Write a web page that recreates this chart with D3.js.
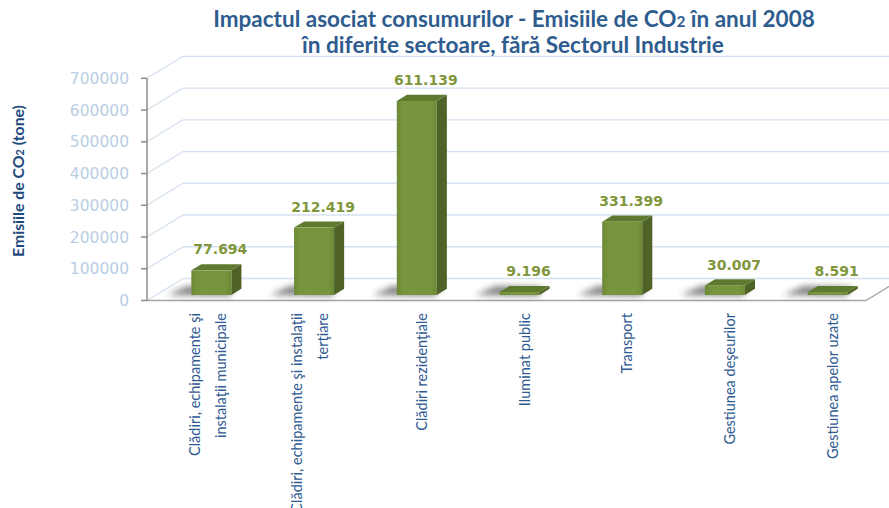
<!DOCTYPE html>
<html>
<head>
<meta charset="utf-8">
<script src="https://cdn.jsdelivr.net/npm/d3@7"></script>
<style>
    body { margin: 0; background: #fff; }
    #chart { width: 889px; height: 508px; }
</style>
</head>
<body>
<div id="chart"></div>
<script>
//Datos
const categories = [
    ['Clădiri, echipamente şi', 'instalaţii municipale'],
    ['Clădiri, echipamente şi instalaţii', 'terţiare'],
    ['Clădiri rezidenţiale'],
    ['Iluminat public'],
    ['Transport'],
    ['Gestiunea deşeurilor'],
    ['Gestiunea apelor uzate']
];
//Altura de las barras tal como se ven (la de Transport es más baja que su etiqueta)
const values = [77694, 212419, 611139, 9196, 231000, 30007, 8591];
const valueLabels = ['77.694', '212.419', '611.139', '9.196', '331.399', '30.007', '8.591'];
const yTicks = [0, 100000, 200000, 300000, 400000, 500000, 600000, 700000];
const titleLines = ['Impactul asociat consumurilor - Emisiile de CO', ' în anul 2008'];

//Colores
const COLOR_SIDE = '#4F6228',
COLOR_TOP = '#5F7A2F',
COLOR_LABEL = '#7F963A',
COLOR_GRID = '#D5E0F0',
COLOR_TICK = '#B9CDE5',
COLOR_BLUE = '#2E5C8E';

let svg = d3.select('#chart').append('svg')
    .attr('width', 889)
    .attr('height', 508);

let defs = svg.append('defs');
let grad = defs.append('linearGradient').attr('id', 'front').attr('x1', 0).attr('x2', 1).attr('y1', 0).attr('y2', 0);
grad.append('stop').attr('offset', '0%').attr('stop-color', '#6C8836');
grad.append('stop').attr('offset', '15%').attr('stop-color', '#78953D');
grad.append('stop').attr('offset', '85%').attr('stop-color', '#78953D');
grad.append('stop').attr('offset', '100%').attr('stop-color', '#6C8836');
defs.append('filter').attr('id', 'blur').attr('x', '-50%').attr('y', '-100%').attr('width', '200%').attr('height', '300%')
    .append('feGaussianBlur').attr('stdDeviation', 3);

//Proyección 3D: desplazamiento de la profundidad completa
const DX = 36, DY = -22;
const axisX0 = 147, axisX1 = 866;

let y = d3.scaleLinear().domain([0, 700000]).range([300.5, 78.3]);
let x = d3.scaleBand().domain(d3.range(categories.length)).range([151, 870]);

//Ajuste del tamaño de letra a un ancho dado
function fitWidth(sel, target) {
    let w = sel.node().getComputedTextLength();
    let fs = parseFloat(sel.attr('font-size'));
    sel.attr('font-size', fs * target / w);
}

//Pared del fondo y lateral
let grid = svg.append('g').attr('class', 'grid');
grid.selectAll('.back')
    .data(yTicks)
    .enter().append('line')
    .attr('x1', axisX0 + DX).attr('x2', axisX1 + DX + 40)
    .attr('y1', d => y(d) + DY).attr('y2', d => y(d) + DY)
    .attr('stroke', COLOR_GRID).attr('stroke-width', 1.3);
grid.selectAll('.side')
    .data(yTicks)
    .enter().append('line')
    .attr('x1', axisX0).attr('x2', axisX0 + DX)
    .attr('y1', d => y(d)).attr('y2', d => y(d) + DY)
    .attr('stroke', COLOR_GRID).attr('stroke-width', 1.3);

//Suelo
svg.append('path')
    .attr('d', `M${axisX0},${y(0)}L${axisX1},${y(0)}L${axisX1 + DX},${y(0) + DY}`)
    .attr('fill', 'none').attr('stroke', '#A6A6A6').attr('stroke-width', 1.3);

//Eje Y
svg.append('line')
    .attr('x1', axisX0).attr('x2', axisX0)
    .attr('y1', y(700000)).attr('y2', y(0))
    .attr('stroke', '#8C8C8C').attr('stroke-width', 1.5);
svg.selectAll('.tickmark')
    .data(yTicks)
    .enter().append('line')
    .attr('x1', axisX0 - 6).attr('x2', axisX0)
    .attr('y1', d => y(d)).attr('y2', d => y(d))
    .attr('stroke', '#8C8C8C').attr('stroke-width', 1.5);
svg.selectAll('.ticklabel')
    .data(yTicks)
    .enter().append('text')
    .attr('x', 129).attr('y', d => y(d)).attr('dy', '0.36em')
    .attr('text-anchor', 'end')
    .attr('font-family', 'DejaVu Sans').attr('font-size', 15.5)
    .attr('fill', COLOR_TICK)
    .text(d => d);

//Barras
const D0 = 0.25, D1 = 0.53, BAR_W = 40;
let bars = svg.append('g').selectAll('g')
    .data(values)
    .enter().append('g');

function barGeom(d, i) {
    let cx = x(i) + x.bandwidth() / 2 + D0 * DX;
    let xl = cx - BAR_W / 2, xr = cx + BAR_W / 2;
    let yb = y(0) + D0 * DY, yt = y(d) + D0 * DY;
    let ddx = (D1 - D0) * DX, ddy = (D1 - D0) * DY;
    return { cx, xl, xr, yb, yt, ddx, ddy };
}

//Sombra sobre el suelo
bars.append('path')
    .attr('d', (d, i) => {
        let g = barGeom(d, i);
        return `M${g.xl - 24},${g.yb}L${g.xl - 4},${g.yb - 9}L${g.xr + 4},${g.yb - 8}L${g.xr - 2},${g.yb + 1}Z`;
    })
    .attr('fill', '#333').attr('opacity', 0.6)
    .attr('filter', 'url(#blur)');

bars.append('path')
    .attr('d', (d, i) => {
        let g = barGeom(d, i);
        return `M${g.xr},${g.yt}L${g.xr + g.ddx},${g.yt + g.ddy}L${g.xr + g.ddx},${g.yb + g.ddy}L${g.xr},${g.yb}Z`;
    })
    .attr('fill', COLOR_SIDE);

bars.append('path')
    .attr('d', (d, i) => {
        let g = barGeom(d, i);
        return `M${g.xl},${g.yt}L${g.xl + g.ddx},${g.yt + g.ddy}L${g.xr + g.ddx},${g.yt + g.ddy}L${g.xr},${g.yt}Z`;
    })
    .attr('fill', COLOR_TOP);

bars.append('rect')
    .attr('x', (d, i) => barGeom(d, i).xl)
    .attr('y', (d, i) => barGeom(d, i).yt)
    .attr('width', BAR_W)
    .attr('height', (d, i) => barGeom(d, i).yb - barGeom(d, i).yt)
    .attr('fill', 'url(#front)');

//Etiquetas de valores
bars.append('text')
    .attr('x', (d, i) => barGeom(d, i).cx + 9)
    .attr('y', (d, i) => barGeom(d, i).yt - 21)
    .attr('dy', '0.36em')
    .attr('text-anchor', 'middle')
    .attr('font-family', 'DejaVu Sans').attr('font-weight', 'bold').attr('font-size', 14)
    .attr('fill', COLOR_LABEL)
    .text((d, i) => valueLabels[i]);

//Etiquetas de categorías
let catLabels = svg.append('g').selectAll('text')
    .data(categories)
    .enter().append('text')
    .attr('transform', (d, i) => 'translate(' + (x(i) + x.bandwidth() / 2 + D0 * DX) + ',313) rotate(-90)')
    .attr('text-anchor', 'end')
    .attr('font-family', 'Lato').attr('font-size', 14.5)
    .attr('fill', '#2F5A92');

catLabels.selectAll('tspan')
    .data(d => d.map((t, k) => ({ t: t, k: k, n: d.length })))
    .enter().append('tspan')
    .attr('x', 0)
    .attr('y', d => 5 + (d.k - (d.n - 1)) * 26 + (d.n - 1) * 4)
    .attr('dy', '0.36em')
    .text(d => d.t);

//Título del eje Y
let yTitle = svg.append('text')
    .attr('transform', 'translate(18,181) rotate(-90)')
    .attr('text-anchor', 'middle')
    .attr('dy', '0.36em')
    .attr('font-family', 'Lato').attr('font-weight', 'bold').attr('font-size', 14)
    .attr('fill', '#1F497D');
yTitle.append('tspan').text('Emisiile de CO');
yTitle.append('tspan').attr('font-size', '0.72em').text('2');
yTitle.append('tspan').text('  (tone)');
fitWidth(yTitle, 152);

//Título
let title = svg.append('g')
    .attr('font-family', 'Lato').attr('font-weight', 'bold')
    .attr('fill', COLOR_BLUE)
    .attr('text-anchor', 'middle');
let t1 = title.append('text').attr('x', 514).attr('y', 19).attr('dy', '0.36em').attr('font-size', 19);
t1.append('tspan').text(titleLines[0]);
t1.append('tspan').attr('font-size', '0.68em').text('2');
t1.append('tspan').text(titleLines[1]);
fitWidth(t1, 602);
let t2 = title.append('text').attr('x', 513).attr('y', 45).attr('dy', '0.36em').attr('font-size', 19)
    .text('în diferite sectoare, fără Sectorul Industrie');
fitWidth(t2, 422);
</script>
</body>
</html>
